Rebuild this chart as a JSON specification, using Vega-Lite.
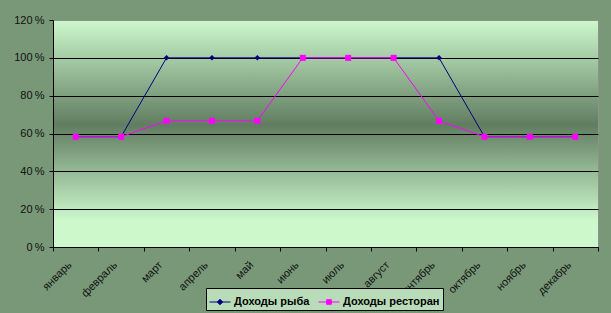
{
  "$schema": "https://vega.github.io/schema/vega-lite/v6.json",
  "width": 545,
  "height": 227,
  "autosize": {"type": "none"},
  "padding": {"left": 53, "top": 20, "right": 13, "bottom": 66},
  "background": "#789878",
  "config": {
    "font": "Liberation Sans",
    "view": {
      "stroke": "#909090",
      "strokeWidth": 1,
      "fill": {
        "gradient": "linear",
        "x1": 0, "y1": 0, "x2": 0, "y2": 1,
        "stops": [
          {"offset": 0, "color": "#ccf8cc"},
          {"offset": 0.46, "color": "#617d61"},
          {"offset": 0.88, "color": "#ccf8cc"},
          {"offset": 1, "color": "#ccf8cc"}
        ]
      }
    }
  },
  "data": {
    "values": [
      {"month": "январь", "series": "Доходы рыба", "value": 0.583},
      {"month": "февраль", "series": "Доходы рыба", "value": 0.583},
      {"month": "март", "series": "Доходы рыба", "value": 1.0},
      {"month": "апрель", "series": "Доходы рыба", "value": 1.0},
      {"month": "май", "series": "Доходы рыба", "value": 1.0},
      {"month": "июнь", "series": "Доходы рыба", "value": 1.0},
      {"month": "июль", "series": "Доходы рыба", "value": 1.0},
      {"month": "август", "series": "Доходы рыба", "value": 1.0},
      {"month": "сентябрь", "series": "Доходы рыба", "value": 1.0},
      {"month": "октябрь", "series": "Доходы рыба", "value": 0.583},
      {"month": "ноябрь", "series": "Доходы рыба", "value": 0.583},
      {"month": "декабрь", "series": "Доходы рыба", "value": 0.583},
      {"month": "январь", "series": "Доходы ресторан", "value": 0.583},
      {"month": "февраль", "series": "Доходы ресторан", "value": 0.583},
      {"month": "март", "series": "Доходы ресторан", "value": 0.667},
      {"month": "апрель", "series": "Доходы ресторан", "value": 0.667},
      {"month": "май", "series": "Доходы ресторан", "value": 0.667},
      {"month": "июнь", "series": "Доходы ресторан", "value": 1.0},
      {"month": "июль", "series": "Доходы ресторан", "value": 1.0},
      {"month": "август", "series": "Доходы ресторан", "value": 1.0},
      {"month": "сентябрь", "series": "Доходы ресторан", "value": 0.667},
      {"month": "октябрь", "series": "Доходы ресторан", "value": 0.583},
      {"month": "ноябрь", "series": "Доходы ресторан", "value": 0.583},
      {"month": "декабрь", "series": "Доходы ресторан", "value": 0.583}
    ]
  },
  "encoding": {
    "x": {
      "field": "month",
      "type": "ordinal",
      "sort": ["январь", "февраль", "март", "апрель", "май", "июнь", "июль", "август", "сентябрь", "октябрь", "ноябрь", "декабрь"],
      "scale": {"type": "band", "paddingInner": 0, "paddingOuter": 0},
      "axis": {
        "title": null,
        "tickBand": "extent",
        "domainColor": "black",
        "tickColor": "black",
        "tickSize": 4,
        "labelAngle": -45,
        "labelAlign": "right",
        "labelBaseline": "middle",
        "labelOffset": -6,
        "labelPadding": 12,
        "labelFontSize": 11,
        "labelColor": "#111111",
        "labelFont": "Liberation Sans",
        "grid": false
      }
    },
    "y": {
      "field": "value",
      "type": "quantitative",
      "scale": {"domain": [0, 1.2], "nice": false},
      "axis": {
        "title": null,
        "values": [0, 0.2, 0.4, 0.6, 0.8, 1.0, 1.2],
        "labelExpr": "round(datum.value * 100) + '\u2009%'",
        "domainColor": "black",
        "tickColor": "black",
        "tickSize": 4,
        "labelPadding": 5,
        "labelFontSize": 11,
        "labelColor": "#111111",
        "labelFont": "Liberation Sans",
        "grid": true,
        "gridColor": {"condition": {"test": "datum.value >= 1.19", "value": "#909090"}, "value": "black"},
        "gridOpacity": 1,
        "gridWidth": 1
      }
    },
    "color": {
      "field": "series",
      "type": "nominal",
      "scale": {"domain": ["Доходы рыба", "Доходы ресторан"], "range": ["#000080", "#ff00ff"]},
      "legend": {
        "title": null,
        "orient": "none",
        "direction": "horizontal",
        "legendX": 153,
        "legendY": 268,
        "padding": 3,
        "strokeColor": "black",
        "fillColor": "#b8dcb8",
        "symbolSize": 441,
        "symbolStrokeWidth": 1,
        "labelFont": "Liberation Sans",
        "labelFontSize": 11,
        "labelFontWeight": "bold",
        "labelColor": "black",
        "labelOffset": 3,
        "columnPadding": 6,
        "encode": {
          "symbols": {
            "update": {
              "shape": {"signal": "datum.value == 'Доходы рыба' ? 'M-1,0H1M0,-0.26L0.26,0L0,0.26L-0.26,0Z' : 'M-1,0H1M-0.22,-0.22H0.22V0.22H-0.22Z'"},
              "fill": {"signal": "datum.value == 'Доходы рыба' ? '#000080' : '#ff00ff'"},
              "stroke": {"signal": "datum.value == 'Доходы рыба' ? '#000080' : '#ff00ff'"},
              "opacity": {"value": 1},
              "fillOpacity": {"value": 1}
            }
          }
        }
      }
    }
  },
  "layer": [
    {
      "transform": [{"filter": "datum.series == 'Доходы рыба'"}],
      "layer": [
        {"mark": {"type": "line", "strokeWidth": 1}},
        {"mark": {"type": "point", "shape": "diamond", "filled": true, "size": 30, "opacity": 1}}
      ]
    },
    {
      "transform": [{"filter": "datum.series == 'Доходы ресторан'"}],
      "layer": [
        {"mark": {"type": "line", "strokeWidth": 1}},
        {"mark": {"type": "point", "shape": "square", "filled": true, "size": 36, "opacity": 1}}
      ]
    }
  ]
}
